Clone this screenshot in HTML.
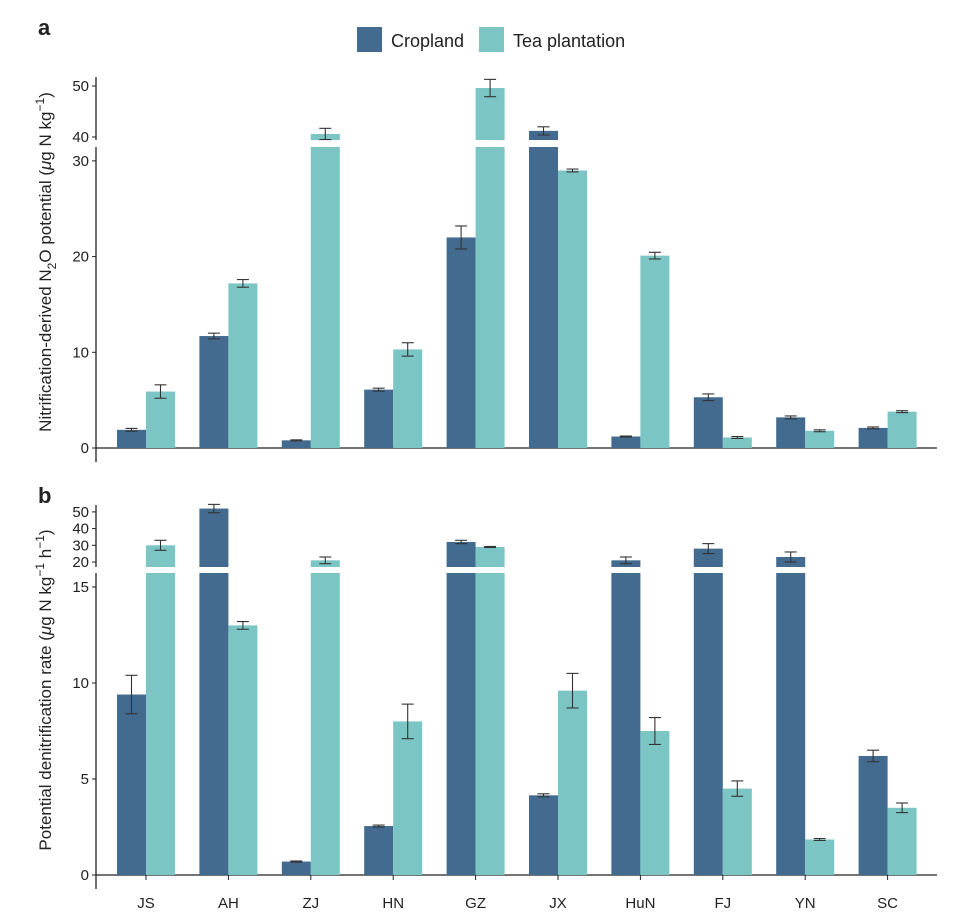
<!DOCTYPE html>
<html><head><meta charset="utf-8"><style>
body{margin:0;background:#fff;}
svg text{font-family:"Liberation Sans",Arial,sans-serif;fill:#222;}
</style></head><body>
<svg id="c" width="980" height="924" xmlns="http://www.w3.org/2000/svg"></svg>
<script>
const categories=["JS","AH","ZJ","HN","GZ","JX","HuN","FJ","YN","SC"];
const nitCrop=[1.9,11.7,0.8,6.1,22,41.2,1.2,5.3,3.2,2.1];
const nitCropErr=[0.15,0.3,0.05,0.15,1.2,0.8,0.05,0.35,0.15,0.1];
const nitTea=[5.9,17.2,40.6,10.3,49.6,29,20.1,1.1,1.8,3.8];
const nitTeaErr=[0.7,0.4,1.1,0.7,1.7,0.15,0.35,0.1,0.1,0.1];
const denCrop=[9.4,52,0.7,2.55,32,4.15,21,28,23,6.2];
const denCropErr=[1,2.5,0.03,0.05,1,0.08,2,3,3,0.3];
const denTea=[30,13,21,8,29,9.6,7.5,4.5,1.85,3.5];
const denTeaErr=[3,0.2,2,0.9,0.3,0.9,0.7,0.4,0.05,0.25];
const nitLowTicks=[0,10,20,30], nitUpTicks=[40,50];
const denLowTicks=[0,5,10,15], denUpTicks=[20,30,40,50];
const CROP="#436a8f", TEA="#7bc5c4";
const svg=document.getElementById('c');
const NS="http://www.w3.org/2000/svg";
function mk(tag,at,parent){const e=document.createElementNS(NS,tag);for(const k in at)e.setAttribute(k,at[k]);(parent||svg).appendChild(e);return e;}
const x0=146, dx=82.4, bw=29;
function xc(i){return x0+i*dx;}
function panel(p){
  const lowY=v=>p.zeroY-(v)*p.lowK;
  const upY=v=>p.upRefY-(v-p.upRef)*p.upK;
  const g=mk('g',{});
  
  
  // axes
  mk('line',{x1:96,y1:p.upTop,x2:96,y2:p.upBot,stroke:'#222','stroke-width':1.3},g);
  mk('line',{x1:96,y1:p.lowTop,x2:96,y2:p.zeroY+14,stroke:'#222','stroke-width':1.3},g);
  mk('line',{x1:96,y1:p.zeroY,x2:937,y2:p.zeroY,stroke:'#222','stroke-width':1.3},g);
  p.lowTicks.forEach(t=>{const y=lowY(t);mk('line',{x1:92,y1:y,x2:96,y2:y,stroke:'#222'},g);
    const tx=mk('text',{x:89,y:y+5,'text-anchor':'end','font-size':15},g);tx.textContent=t;
    });
  p.upTicks.forEach(t=>{const y=upY(t);mk('line',{x1:92,y1:y,x2:96,y2:y,stroke:'#222'},g);
    const tx=mk('text',{x:89,y:y+5,'text-anchor':'end','font-size':15},g);tx.textContent=t;
    });
  const series=[[p.crop,p.cropErr,CROP,-bw],[p.tea,p.teaErr,TEA,0]];
  series.forEach(([vals,errs,col,off],si)=>{
    vals.forEach((v,i)=>{
      const x=xc(i)+off;
      let top,ey1,ey2;
      if(v<=p.lowMax){top=lowY(v);ey1=lowY(v-errs[i]);ey2=lowY(v+errs[i]);
        const r=mk('rect',{x:x,y:top,width:bw,height:p.zeroY-top,fill:col},g);
        
      }else{
        const r=mk('rect',{x:x,y:p.lowTop,width:bw,height:p.zeroY-p.lowTop,fill:col},g);
        
        top=upY(v);ey1=upY(v-errs[i]);ey2=upY(v+errs[i]);
        const r2=mk('rect',{x:x,y:top,width:bw,height:p.upBot-top,fill:col},g);
        
      }
      const cx=x+bw/2;
      mk('line',{x1:cx,y1:ey1,x2:cx,y2:ey2,stroke:'#333','stroke-width':1.1},g);
      mk('line',{x1:cx-6,y1:ey1,x2:cx+6,y2:ey1,stroke:'#333','stroke-width':1.1},g);
      mk('line',{x1:cx-6,y1:ey2,x2:cx+6,y2:ey2,stroke:'#333','stroke-width':1.1},g);
    });
  });
  const pl=mk('text',{x:38,y:p.letterY,'font-size':22,'font-weight':'bold'},g);pl.textContent=p.letter;
  
  return {lowY};
}
const a=panel({name:'panel-a',letter:'a',letterY:35,zeroY:448,lowK:9.57,lowMax:31.5,lowTop:147,upTop:77,upBot:140,upRef:40,upRefY:137,upK:5.1,
  lowTicks:nitLowTicks,upTicks:nitUpTicks,crop:nitCrop,cropErr:nitCropErr,tea:nitTea,teaErr:nitTeaErr});
const b=panel({name:'panel-b',letter:'b',letterY:503,zeroY:875,lowK:19.2,lowMax:15.7,lowTop:573,upTop:505,upBot:567,upRef:20,upRefY:562,upK:1.67,
  lowTicks:denLowTicks,upTicks:denUpTicks,crop:denCrop,cropErr:denCropErr,tea:denTea,teaErr:denTeaErr});
categories.forEach((c,i)=>{
  const t=mk('text',{x:xc(i),y:908,'text-anchor':'middle','font-size':15});t.textContent=c;
  
  mk('line',{x1:xc(i),y1:875,x2:xc(i),y2:880,stroke:'#222'});
});
</script>
<svg style="position:absolute;left:0;top:0" width="980" height="924">
 <g>
  <rect x="357" y="27" width="25" height="25" fill="#436a8f"/>
  <text x="391" y="47" font-size="18">Cropland</text>
  <rect x="479" y="27" width="25" height="25" fill="#7bc5c4"/>
  <text x="513" y="47" font-size="18">Tea plantation</text>
 </g>
 <text transform="translate(51,262) rotate(-90)" text-anchor="middle" font-size="17">Nitrification-derived N<tspan font-size="12" dy="5">2</tspan><tspan dy="-5">O potential  (</tspan><tspan font-style="italic">μ</tspan>g N kg<tspan font-size="12" dy="-7">−1</tspan><tspan dy="7">)</tspan></text>
 <text transform="translate(51,690) rotate(-90)" text-anchor="middle" font-size="17">Potential denitrification rate (<tspan font-style="italic">μ</tspan>g N kg<tspan font-size="12" dy="-7">−1</tspan><tspan dy="7"> h</tspan><tspan font-size="12" dy="-7">−1</tspan><tspan dy="7">)</tspan></text>
</svg>
<style>svg{position:absolute;left:0;top:0}</style>
</body></html>
